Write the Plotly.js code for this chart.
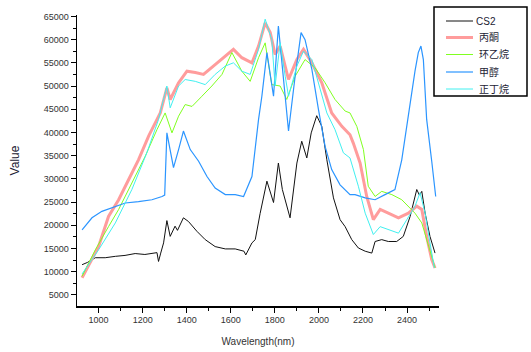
<!DOCTYPE html>
<html>
<head>
<meta charset="utf-8">
<script src="https://cdn.plot.ly/plotly-3.0.1.min.js"></script>
<style>
html,body{margin:0;padding:0;background:#fff;}
#chart{width:531px;height:352px;}
</style>
</head>
<body>
<div id="chart"></div>
<script>
// Series names
const seriesNames = ["CS2", "丙酮", "环乙烷", "甲醇", "正丁烷"];

// CS2
const cs2X = [925, 950, 985, 1030, 1076, 1120, 1166, 1210, 1265, 1272, 1282, 1295, 1310, 1325, 1347, 1358, 1385, 1408, 1446, 1484, 1529, 1575, 1620, 1660, 1668, 1696, 1711, 1733, 1764, 1794, 1816, 1834, 1869, 1900, 1922, 1945, 1965, 1990, 2013, 2036, 2066, 2096, 2119, 2149, 2179, 2210, 2240, 2255, 2285, 2315, 2353, 2383, 2414, 2444, 2456, 2467, 2482, 2504, 2527];
const cs2Y = [11500, 12000, 13000, 13000, 13300, 13500, 13900, 13700, 14100, 12200, 14000, 16200, 21000, 17600, 19800, 18900, 21600, 20800, 18700, 16900, 15400, 14900, 14900, 14400, 13600, 16200, 16900, 22500, 29500, 24900, 33400, 27700, 21600, 33400, 38100, 34500, 39900, 43600, 41300, 34100, 25900, 21200, 19700, 16900, 15100, 14400, 14000, 16500, 16900, 16500, 16500, 17600, 21900, 27700, 26500, 27300, 22600, 17600, 14000];

// 丙酮 (acetone)
const acetoneX = [925, 955, 1000, 1045, 1091, 1136, 1181, 1227, 1280, 1310, 1325, 1363, 1401, 1439, 1476, 1529, 1575, 1612, 1650, 1696, 1726, 1756, 1779, 1801, 1824, 1862, 1900, 1930, 1968, 2013, 2058, 2104, 2141, 2156, 2187, 2217, 2247, 2278, 2315, 2361, 2406, 2444, 2467, 2489, 2512, 2527];
const acetoneY = [8700, 11500, 15400, 21900, 25500, 29800, 34100, 39200, 44200, 49600, 47100, 50700, 53200, 52900, 52500, 54600, 56400, 57900, 56100, 55000, 58600, 63600, 61500, 56800, 58600, 51400, 55700, 57900, 55000, 50700, 44200, 41300, 39500, 37700, 33400, 26200, 21200, 23400, 22600, 21600, 22600, 24100, 23400, 17600, 12600, 10800];

// 环乙烷 (cyclohexane)
const cycloX = [925, 985, 1045, 1091, 1151, 1212, 1265, 1302, 1333, 1363, 1393, 1424, 1469, 1514, 1560, 1605, 1650, 1688, 1726, 1756, 1786, 1824, 1854, 1892, 1937, 1983, 2028, 2073, 2119, 2141, 2172, 2202, 2224, 2255, 2285, 2331, 2376, 2406, 2436, 2467, 2497, 2527];
const cycloY = [9000, 14700, 19700, 23400, 29100, 34900, 40600, 44200, 39900, 43500, 46000, 45600, 47800, 50000, 52500, 57200, 53200, 51000, 56100, 59300, 50300, 50000, 47100, 52100, 55700, 53900, 50700, 47100, 44600, 44200, 41300, 36300, 28400, 26200, 27300, 26600, 25500, 24100, 22600, 20500, 15400, 10800];

// 甲醇 (methanol)
const methanolX = [925, 970, 1015, 1076, 1121, 1181, 1242, 1288, 1300, 1310, 1340, 1363, 1385, 1416, 1454, 1492, 1529, 1575, 1620, 1658, 1696, 1726, 1741, 1764, 1794, 1816, 1839, 1862, 1892, 1919, 1937, 1968, 1998, 2028, 2058, 2096, 2141, 2164, 2210, 2255, 2300, 2345, 2376, 2406, 2436, 2451, 2463, 2474, 2489, 2512, 2530];
const methanolY = [19000, 21600, 23000, 24100, 24800, 25100, 25500, 26200, 26500, 39900, 32400, 36300, 40300, 36300, 33800, 30500, 28000, 26600, 26600, 26200, 30500, 42800, 47800, 57200, 47800, 62900, 52100, 40300, 52100, 61500, 60000, 53600, 44900, 37000, 32000, 28700, 26600, 26600, 25900, 25500, 26600, 27700, 34100, 44200, 53200, 57200, 58600, 55700, 42800, 33800, 26200];

// 正丁烷 (butane)
const butaneX = [925, 1000, 1076, 1151, 1219, 1272, 1310, 1325, 1363, 1393, 1439, 1484, 1529, 1575, 1612, 1650, 1688, 1726, 1756, 1786, 1801, 1824, 1847, 1862, 1900, 1930, 1968, 1998, 2036, 2073, 2111, 2141, 2179, 2210, 2247, 2278, 2315, 2361, 2399, 2436, 2459, 2482, 2504, 2524];
const butaneY = [9500, 14700, 20500, 27700, 35600, 42800, 50000, 45300, 50000, 51400, 51000, 50300, 52500, 54300, 55000, 53200, 52500, 57900, 64400, 60000, 50000, 59300, 52100, 47800, 54300, 57500, 55700, 50700, 44200, 40600, 35600, 34500, 28400, 22600, 18000, 19700, 19000, 18300, 21200, 24100, 27000, 22600, 16200, 10800];

const font = "Liberation Sans, Arial, Noto Sans CJK SC, sans-serif";
const lineStyles = [
  {color: "#111111", width: 1},
  {color: "#ff9c9c", width: 3},
  {color: "#80ff20", width: 1},
  {color: "#2b95ff", width: 1.2},
  {color: "#40f0f0", width: 1}
];
const xs = [cs2X, acetoneX, cycloX, methanolX, butaneX];
const ys = [cs2Y, acetoneY, cycloY, methanolY, butaneY];

const traces = seriesNames.map((n, i) => ({
  type: "scatter", mode: "lines", name: n, x: xs[i], y: ys[i], line: lineStyles[i]
}));

// Plot area in pixels: left 77, right 439, top 15, bottom 306
const M = {l: 77, r: 92, t: 15, b: 46};
const W = 531, H = 352;
const pw = W - M.l - M.r, ph = H - M.t - M.b;
const px = v => (v - M.l) / pw;
const py = v => (H - M.b - v) / ph;

// Boxed legend (drawn as layout decorations)
const legendRows = [21, 37.5, 54.5, 72, 89];
const shapes = [{
  type: "rect", xref: "paper", yref: "paper",
  x0: px(434), x1: px(527), y0: py(96), y1: py(7),
  line: {color: "#000000", width: 1.5}, fillcolor: "#ffffff", layer: "above"
}];
const annotations = [];
seriesNames.forEach((n, i) => {
  shapes.push({
    type: "line", xref: "paper", yref: "paper",
    x0: px(446), x1: px(473), y0: py(legendRows[i]), y1: py(legendRows[i]),
    line: lineStyles[i], layer: "above"
  });
  annotations.push({
    xref: "paper", yref: "paper", x: px(i === 0 ? 474 : 477), y: py(legendRows[i]),
    xanchor: "left", yanchor: "middle", showarrow: false, text: n,
    font: {family: font, size: i === 0 ? 10 : 10, color: "#222233"}
  });
});

const layout = {
  width: W, height: H,
  margin: M,
  paper_bgcolor: "#ffffff", plot_bgcolor: "#ffffff",
  font: {family: font, size: 9, color: "#333333"},
  showlegend: false,
  shapes: shapes,
  annotations: annotations,
  xaxis: {
    range: [902, 2545], showgrid: false, zeroline: false,
    showline: true, linecolor: "#000000", linewidth: 1.5,
    ticks: "outside", ticklen: 5, tickwidth: 1, tickcolor: "#000000",
    tick0: 1000, dtick: 200,
    minor: {dtick: 100, ticks: "outside", ticklen: 3, tickcolor: "#000000"},
    tickfont: {family: font, size: 9, color: "#333333"},
    title: {text: "Wavelength(nm)", font: {family: font, size: 10, color: "#333333"}, standoff: 13}
  },
  yaxis: {
    range: [2600, 65300], showgrid: false, zeroline: false,
    showline: true, linecolor: "#000000", linewidth: 1.5,
    ticks: "outside", ticklen: 5, tickwidth: 1, tickcolor: "#000000",
    tick0: 5000, dtick: 5000, tickformat: "d", exponentformat: "none",
    minor: {dtick: 2500, ticks: "outside", ticklen: 3, tickcolor: "#000000"},
    tickfont: {family: font, size: 9, color: "#333333"},
    title: {text: "Value", font: {family: font, size: 12, color: "#222233"}, standoff: 21}
  }
};

Plotly.newPlot("chart", traces, layout, {displayModeBar: false, staticPlot: true});
</script>
</body>
</html>
